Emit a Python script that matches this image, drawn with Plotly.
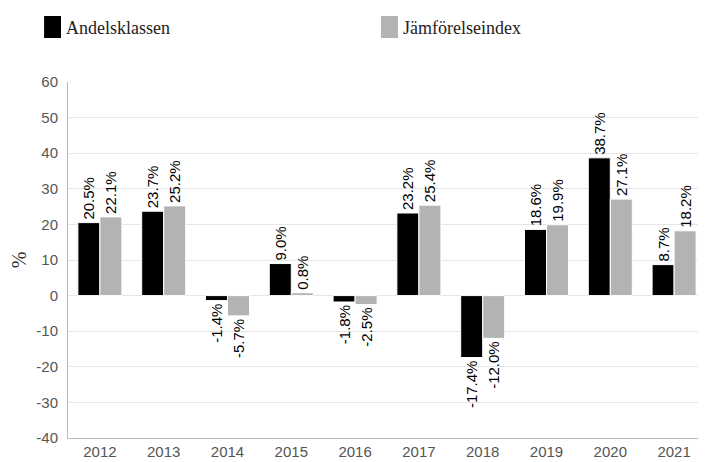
import plotly.graph_objects as go

years = ["2012", "2013", "2014", "2015", "2016", "2017", "2018", "2019", "2020", "2021"]
andelsklassen = [20.5, 23.7, -1.4, 9.0, -1.8, 23.2, -17.4, 18.6, 38.7, 8.7]
jamforelseindex = [22.1, 25.2, -5.7, 0.8, -2.5, 25.4, -12.0, 19.9, 27.1, 18.2]
series_names = ["Andelsklassen", "Jämförelseindex"]
colors = ["#000000", "#b3b3b3"]
y_ticks = [-40, -30, -20, -10, 0, 10, 20, 30, 40, 50, 60]
y_ticktext = ["-40", "-30", "-20", "-10", "0", "10", "20", "30", "40", "50", "60"]

fig = go.Figure()
for name, vals, col in zip(series_names, [andelsklassen, jamforelseindex], colors):
    fig.add_trace(go.Bar(
        x=years, y=vals, name=name,
        marker=dict(color=col, line=dict(color="#ffffff", width=1)),
        texttemplate="%{y:.1f}%", textposition="outside", textangle=-90,
        constraintext="none",
        textfont=dict(family="Liberation Sans, Arial", size=15, color="#000000"),
        cliponaxis=False,
    ))

# page has 8px body margin: figure placed at (8,8)
fig.update_layout(
    width=698, height=454,
    margin=dict(l=58, r=0, t=74, b=24),
    plot_bgcolor="white", paper_bgcolor="white",
    barmode="group", bargap=0.31, bargroupgap=0.0,
    showlegend=False,
    font=dict(family="Liberation Sans, Arial", size=15, color="#555555"),
    xaxis=dict(showgrid=False, ticks="", tickfont=dict(size=15, color="#555555"),
               showline=True, linecolor="#bbbbbb", linewidth=1),
    yaxis=dict(range=[-40, 60], tickvals=y_ticks, ticktext=y_ticktext,
               showgrid=True, gridcolor="#e6e6e6",
               zeroline=True, zerolinecolor="#e6e6e6", zerolinewidth=1,
               showline=True, linecolor="#bbbbbb", linewidth=1,
               ticks="", ticklabelstandoff=6,
               tickfont=dict(size=15, color="#555555"),
               title=dict(text="%", font=dict(family="Liberation Serif, serif", size=20, color="#333333"),
                          standoff=14)),
)

# Legend drawn manually (page coordinates converted to paper coordinates)
legend_items = [(42, series_names[0], colors[0]), (380, series_names[1], colors[1])]
for x0, name, col in legend_items:
    fig.add_shape(type="rect", xref="paper", yref="paper",
                  x0=(x0 - 66) / 640, x1=(x0 + 17 - 66) / 640,
                  y0=(438 - 38) / 356, y1=(438 - 16) / 356,
                  fillcolor=col, line=dict(width=0))
    fig.add_annotation(xref="paper", yref="paper",
                       x=(x0 + 20 - 66) / 640, y=(438 - 28) / 356,
                       xanchor="left", yanchor="middle", showarrow=False,
                       text=name,
                       font=dict(family="Liberation Serif, serif", size=18, color="#222222"))

fig.write_html("out.html")
